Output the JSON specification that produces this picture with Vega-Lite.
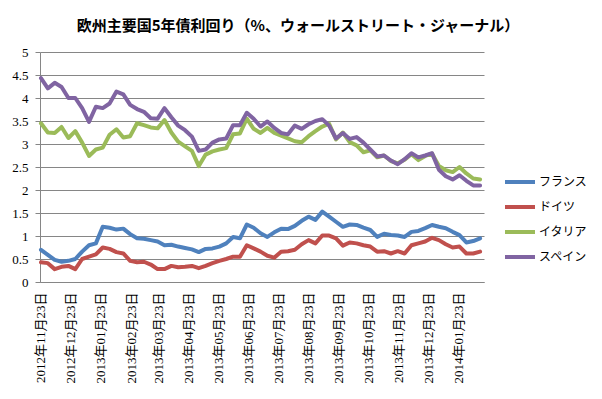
{
"$schema": "https://vega.github.io/schema/vega-lite/v6.json",
"width": 444, "height": 230,
"autosize": {"type": "none"},
"padding": {"left": 40, "top": 52, "right": 118, "bottom": 117},
"background": "white",
"title": {"text": "欧州主要国5年債利回り（%、ウォールストリート・ジャーナル）", "font": "Noto Sans CJK JP", "fontSize": 15, "fontWeight": "bold", "anchor": "middle", "dx": 36, "offset": -3, "baseline": "bottom", "color": "black"},
"data": {"values": [
{"date":"2012-11-23","country":"フランス","yield":0.70},{"date":"2012-11-30","country":"フランス","yield":0.59},{"date":"2012-12-07","country":"フランス","yield":0.48},{"date":"2012-12-14","country":"フランス","yield":0.44},{"date":"2012-12-21","country":"フランス","yield":0.46},{"date":"2012-12-28","country":"フランス","yield":0.50},{"date":"2013-01-04","country":"フランス","yield":0.66},{"date":"2013-01-11","country":"フランス","yield":0.80},{"date":"2013-01-18","country":"フランス","yield":0.84},{"date":"2013-01-25","country":"フランス","yield":1.20},{"date":"2013-02-01","country":"フランス","yield":1.18},{"date":"2013-02-08","country":"フランス","yield":1.14},{"date":"2013-02-15","country":"フランス","yield":1.16},{"date":"2013-02-22","country":"フランス","yield":1.04},{"date":"2013-03-01","country":"フランス","yield":0.95},{"date":"2013-03-08","country":"フランス","yield":0.94},{"date":"2013-03-15","country":"フランス","yield":0.91},{"date":"2013-03-22","country":"フランス","yield":0.88},{"date":"2013-03-29","country":"フランス","yield":0.80},{"date":"2013-04-05","country":"フランス","yield":0.81},{"date":"2013-04-12","country":"フランス","yield":0.77},{"date":"2013-04-19","country":"フランス","yield":0.74},{"date":"2013-04-26","country":"フランス","yield":0.71},{"date":"2013-05-03","country":"フランス","yield":0.65},{"date":"2013-05-10","country":"フランス","yield":0.72},{"date":"2013-05-17","country":"フランス","yield":0.73},{"date":"2013-05-24","country":"フランス","yield":0.77},{"date":"2013-05-31","country":"フランス","yield":0.84},{"date":"2013-06-07","country":"フランス","yield":0.98},{"date":"2013-06-14","country":"フランス","yield":0.95},{"date":"2013-06-21","country":"フランス","yield":1.25},{"date":"2013-06-28","country":"フランス","yield":1.18},{"date":"2013-07-05","country":"フランス","yield":1.06},{"date":"2013-07-12","country":"フランス","yield":0.98},{"date":"2013-07-19","country":"フランス","yield":1.08},{"date":"2013-07-26","country":"フランス","yield":1.16},{"date":"2013-08-02","country":"フランス","yield":1.15},{"date":"2013-08-09","country":"フランス","yield":1.22},{"date":"2013-08-16","country":"フランス","yield":1.33},{"date":"2013-08-23","country":"フランス","yield":1.42},{"date":"2013-08-30","country":"フランス","yield":1.35},{"date":"2013-09-06","country":"フランス","yield":1.53},{"date":"2013-09-13","country":"フランス","yield":1.42},{"date":"2013-09-20","country":"フランス","yield":1.31},{"date":"2013-09-27","country":"フランス","yield":1.20},{"date":"2013-10-04","country":"フランス","yield":1.25},{"date":"2013-10-11","country":"フランス","yield":1.24},{"date":"2013-10-18","country":"フランス","yield":1.18},{"date":"2013-10-25","country":"フランス","yield":1.13},{"date":"2013-11-01","country":"フランス","yield":0.98},{"date":"2013-11-08","country":"フランス","yield":1.05},{"date":"2013-11-15","country":"フランス","yield":1.02},{"date":"2013-11-22","country":"フランス","yield":1.01},{"date":"2013-11-29","country":"フランス","yield":0.98},{"date":"2013-12-06","country":"フランス","yield":1.09},{"date":"2013-12-13","country":"フランス","yield":1.11},{"date":"2013-12-20","country":"フランス","yield":1.17},{"date":"2013-12-27","country":"フランス","yield":1.24},{"date":"2014-01-03","country":"フランス","yield":1.20},{"date":"2014-01-10","country":"フランス","yield":1.17},{"date":"2014-01-17","country":"フランス","yield":1.09},{"date":"2014-01-24","country":"フランス","yield":1.02},{"date":"2014-01-31","country":"フランス","yield":0.86},{"date":"2014-02-07","country":"フランス","yield":0.89},{"date":"2014-02-14","country":"フランス","yield":0.95},
{"date":"2012-11-23","country":"ドイツ","yield":0.43},{"date":"2012-11-30","country":"ドイツ","yield":0.41},{"date":"2012-12-07","country":"ドイツ","yield":0.28},{"date":"2012-12-14","country":"ドイツ","yield":0.33},{"date":"2012-12-21","country":"ドイツ","yield":0.35},{"date":"2012-12-28","country":"ドイツ","yield":0.28},{"date":"2013-01-04","country":"ドイツ","yield":0.50},{"date":"2013-01-11","country":"ドイツ","yield":0.55},{"date":"2013-01-18","country":"ドイツ","yield":0.60},{"date":"2013-01-25","country":"ドイツ","yield":0.75},{"date":"2013-02-01","country":"ドイツ","yield":0.72},{"date":"2013-02-08","country":"ドイツ","yield":0.65},{"date":"2013-02-15","country":"ドイツ","yield":0.62},{"date":"2013-02-22","country":"ドイツ","yield":0.46},{"date":"2013-03-01","country":"ドイツ","yield":0.43},{"date":"2013-03-08","country":"ドイツ","yield":0.44},{"date":"2013-03-15","country":"ドイツ","yield":0.38},{"date":"2013-03-22","country":"ドイツ","yield":0.28},{"date":"2013-03-29","country":"ドイツ","yield":0.28},{"date":"2013-04-05","country":"ドイツ","yield":0.35},{"date":"2013-04-12","country":"ドイツ","yield":0.32},{"date":"2013-04-19","country":"ドイツ","yield":0.33},{"date":"2013-04-26","country":"ドイツ","yield":0.35},{"date":"2013-05-03","country":"ドイツ","yield":0.30},{"date":"2013-05-10","country":"ドイツ","yield":0.35},{"date":"2013-05-17","country":"ドイツ","yield":0.41},{"date":"2013-05-24","country":"ドイツ","yield":0.46},{"date":"2013-05-31","country":"ドイツ","yield":0.50},{"date":"2013-06-07","country":"ドイツ","yield":0.55},{"date":"2013-06-14","country":"ドイツ","yield":0.55},{"date":"2013-06-21","country":"ドイツ","yield":0.80},{"date":"2013-06-28","country":"ドイツ","yield":0.73},{"date":"2013-07-05","country":"ドイツ","yield":0.66},{"date":"2013-07-12","country":"ドイツ","yield":0.57},{"date":"2013-07-19","country":"ドイツ","yield":0.53},{"date":"2013-07-26","country":"ドイツ","yield":0.66},{"date":"2013-08-02","country":"ドイツ","yield":0.67},{"date":"2013-08-09","country":"ドイツ","yield":0.70},{"date":"2013-08-16","country":"ドイツ","yield":0.82},{"date":"2013-08-23","country":"ドイツ","yield":0.91},{"date":"2013-08-30","country":"ドイツ","yield":0.84},{"date":"2013-09-06","country":"ドイツ","yield":1.01},{"date":"2013-09-13","country":"ドイツ","yield":1.01},{"date":"2013-09-20","country":"ドイツ","yield":0.95},{"date":"2013-09-27","country":"ドイツ","yield":0.79},{"date":"2013-10-04","country":"ドイツ","yield":0.86},{"date":"2013-10-11","country":"ドイツ","yield":0.84},{"date":"2013-10-18","country":"ドイツ","yield":0.80},{"date":"2013-10-25","country":"ドイツ","yield":0.77},{"date":"2013-11-01","country":"ドイツ","yield":0.66},{"date":"2013-11-08","country":"ドイツ","yield":0.67},{"date":"2013-11-15","country":"ドイツ","yield":0.62},{"date":"2013-11-22","country":"ドイツ","yield":0.67},{"date":"2013-11-29","country":"ドイツ","yield":0.62},{"date":"2013-12-06","country":"ドイツ","yield":0.80},{"date":"2013-12-13","country":"ドイツ","yield":0.84},{"date":"2013-12-20","country":"ドイツ","yield":0.88},{"date":"2013-12-27","country":"ドイツ","yield":0.96},{"date":"2014-01-03","country":"ドイツ","yield":0.91},{"date":"2014-01-10","country":"ドイツ","yield":0.82},{"date":"2014-01-17","country":"ドイツ","yield":0.75},{"date":"2014-01-24","country":"ドイツ","yield":0.77},{"date":"2014-01-31","country":"ドイツ","yield":0.62},{"date":"2014-02-07","country":"ドイツ","yield":0.62},{"date":"2014-02-14","country":"ドイツ","yield":0.66},
{"date":"2012-11-23","country":"イタリア","yield":3.45},{"date":"2012-11-30","country":"イタリア","yield":3.25},{"date":"2012-12-07","country":"イタリア","yield":3.24},{"date":"2012-12-14","country":"イタリア","yield":3.37},{"date":"2012-12-21","country":"イタリア","yield":3.13},{"date":"2012-12-28","country":"イタリア","yield":3.28},{"date":"2013-01-04","country":"イタリア","yield":3.03},{"date":"2013-01-11","country":"イタリア","yield":2.74},{"date":"2013-01-18","country":"イタリア","yield":2.88},{"date":"2013-01-25","country":"イタリア","yield":2.92},{"date":"2013-02-01","country":"イタリア","yield":3.20},{"date":"2013-02-08","country":"イタリア","yield":3.32},{"date":"2013-02-15","country":"イタリア","yield":3.14},{"date":"2013-02-22","country":"イタリア","yield":3.17},{"date":"2013-03-01","country":"イタリア","yield":3.45},{"date":"2013-03-08","country":"イタリア","yield":3.41},{"date":"2013-03-15","country":"イタリア","yield":3.36},{"date":"2013-03-22","country":"イタリア","yield":3.34},{"date":"2013-03-29","country":"イタリア","yield":3.52},{"date":"2013-04-05","country":"イタリア","yield":3.25},{"date":"2013-04-12","country":"イタリア","yield":3.05},{"date":"2013-04-19","country":"イタリア","yield":2.95},{"date":"2013-04-26","country":"イタリア","yield":2.85},{"date":"2013-05-03","country":"イタリア","yield":2.52},{"date":"2013-05-10","country":"イタリア","yield":2.77},{"date":"2013-05-17","country":"イタリア","yield":2.84},{"date":"2013-05-24","country":"イタリア","yield":2.88},{"date":"2013-05-31","country":"イタリア","yield":2.91},{"date":"2013-06-07","country":"イタリア","yield":3.21},{"date":"2013-06-14","country":"イタリア","yield":3.23},{"date":"2013-06-21","country":"イタリア","yield":3.55},{"date":"2013-06-28","country":"イタリア","yield":3.33},{"date":"2013-07-05","country":"イタリア","yield":3.24},{"date":"2013-07-12","country":"イタリア","yield":3.35},{"date":"2013-07-19","country":"イタリア","yield":3.24},{"date":"2013-07-26","country":"イタリア","yield":3.18},{"date":"2013-08-02","country":"イタリア","yield":3.12},{"date":"2013-08-09","country":"イタリア","yield":3.06},{"date":"2013-08-16","country":"イタリア","yield":3.04},{"date":"2013-08-23","country":"イタリア","yield":3.17},{"date":"2013-08-30","country":"イタリア","yield":3.28},{"date":"2013-09-06","country":"イタリア","yield":3.38},{"date":"2013-09-13","country":"イタリア","yield":3.44},{"date":"2013-09-20","country":"イタリア","yield":3.10},{"date":"2013-09-27","country":"イタリア","yield":3.25},{"date":"2013-10-04","country":"イタリア","yield":3.04},{"date":"2013-10-11","country":"イタリア","yield":2.97},{"date":"2013-10-18","country":"イタリア","yield":2.82},{"date":"2013-10-25","country":"イタリア","yield":2.86},{"date":"2013-11-01","country":"イタリア","yield":2.71},{"date":"2013-11-08","country":"イタリア","yield":2.75},{"date":"2013-11-15","country":"イタリア","yield":2.63},{"date":"2013-11-22","country":"イタリア","yield":2.58},{"date":"2013-11-29","country":"イタリア","yield":2.66},{"date":"2013-12-06","country":"イタリア","yield":2.78},{"date":"2013-12-13","country":"イタリア","yield":2.65},{"date":"2013-12-20","country":"イタリア","yield":2.74},{"date":"2013-12-27","country":"イタリア","yield":2.79},{"date":"2014-01-03","country":"イタリア","yield":2.52},{"date":"2014-01-10","country":"イタリア","yield":2.43},{"date":"2014-01-17","country":"イタリア","yield":2.39},{"date":"2014-01-24","country":"イタリア","yield":2.50},{"date":"2014-01-31","country":"イタリア","yield":2.36},{"date":"2014-02-07","country":"イタリア","yield":2.25},{"date":"2014-02-14","country":"イタリア","yield":2.23},
{"date":"2012-11-23","country":"スペイン","yield":4.43},{"date":"2012-11-30","country":"スペイン","yield":4.21},{"date":"2012-12-07","country":"スペイン","yield":4.33},{"date":"2012-12-14","country":"スペイン","yield":4.24},{"date":"2012-12-21","country":"スペイン","yield":4.00},{"date":"2012-12-28","country":"スペイン","yield":4.00},{"date":"2013-01-04","country":"スペイン","yield":3.78},{"date":"2013-01-11","country":"スペイン","yield":3.48},{"date":"2013-01-18","country":"スペイン","yield":3.81},{"date":"2013-01-25","country":"スペイン","yield":3.78},{"date":"2013-02-01","country":"スペイン","yield":3.88},{"date":"2013-02-08","country":"スペイン","yield":4.14},{"date":"2013-02-15","country":"スペイン","yield":4.08},{"date":"2013-02-22","country":"スペイン","yield":3.85},{"date":"2013-03-01","country":"スペイン","yield":3.76},{"date":"2013-03-08","country":"スペイン","yield":3.70},{"date":"2013-03-15","country":"スペイン","yield":3.56},{"date":"2013-03-22","country":"スペイン","yield":3.55},{"date":"2013-03-29","country":"スペイン","yield":3.78},{"date":"2013-04-05","country":"スペイン","yield":3.58},{"date":"2013-04-12","country":"スペイン","yield":3.40},{"date":"2013-04-19","country":"スペイン","yield":3.30},{"date":"2013-04-26","country":"スペイン","yield":3.16},{"date":"2013-05-03","country":"スペイン","yield":2.85},{"date":"2013-05-10","country":"スペイン","yield":2.88},{"date":"2013-05-17","country":"スペイン","yield":3.03},{"date":"2013-05-24","country":"スペイン","yield":3.10},{"date":"2013-05-31","country":"スペイン","yield":3.12},{"date":"2013-06-07","country":"スペイン","yield":3.41},{"date":"2013-06-14","country":"スペイン","yield":3.41},{"date":"2013-06-21","country":"スペイン","yield":3.68},{"date":"2013-06-28","country":"スペイン","yield":3.55},{"date":"2013-07-05","country":"スペイン","yield":3.38},{"date":"2013-07-12","country":"スペイン","yield":3.49},{"date":"2013-07-19","country":"スペイン","yield":3.35},{"date":"2013-07-26","country":"スペイン","yield":3.24},{"date":"2013-08-02","country":"スペイン","yield":3.21},{"date":"2013-08-09","country":"スペイン","yield":3.40},{"date":"2013-08-16","country":"スペイン","yield":3.33},{"date":"2013-08-23","country":"スペイン","yield":3.43},{"date":"2013-08-30","country":"スペイン","yield":3.50},{"date":"2013-09-06","country":"スペイン","yield":3.54},{"date":"2013-09-13","country":"スペイン","yield":3.40},{"date":"2013-09-20","country":"スペイン","yield":3.12},{"date":"2013-09-27","country":"スペイン","yield":3.24},{"date":"2013-10-04","country":"スペイン","yield":3.11},{"date":"2013-10-11","country":"スペイン","yield":3.15},{"date":"2013-10-18","country":"スペイン","yield":3.03},{"date":"2013-10-25","country":"スペイン","yield":2.88},{"date":"2013-11-01","country":"スペイン","yield":2.73},{"date":"2013-11-08","country":"スペイン","yield":2.75},{"date":"2013-11-15","country":"スペイン","yield":2.64},{"date":"2013-11-22","country":"スペイン","yield":2.56},{"date":"2013-11-29","country":"スペイン","yield":2.67},{"date":"2013-12-06","country":"スペイン","yield":2.80},{"date":"2013-12-13","country":"スペイン","yield":2.71},{"date":"2013-12-20","country":"スペイン","yield":2.75},{"date":"2013-12-27","country":"スペイン","yield":2.80},{"date":"2014-01-03","country":"スペイン","yield":2.44},{"date":"2014-01-10","country":"スペイン","yield":2.30},{"date":"2014-01-17","country":"スペイン","yield":2.23},{"date":"2014-01-24","country":"スペイン","yield":2.32},{"date":"2014-01-31","country":"スペイン","yield":2.20},{"date":"2014-02-07","country":"スペイン","yield":2.10},{"date":"2014-02-14","country":"スペイン","yield":2.10}
]},
"mark": {"type": "line", "strokeWidth": 4, "strokeJoin": "round", "strokeCap": "round"},
"encoding": {
 "x": {"field": "date", "type": "temporal",
  "scale": {"type": "utc", "domain": [{"year": 2012, "month": 11, "date": 22, "utc": true}, {"year": 2014, "month": 2, "date": 18, "utc": true}]},
  "axis": {"title": null,
   "values": [{"year":2012,"month":11,"date":23,"utc":true},{"year":2012,"month":12,"date":23,"utc":true},{"year":2013,"month":1,"date":23,"utc":true},{"year":2013,"month":2,"date":23,"utc":true},{"year":2013,"month":3,"date":23,"utc":true},{"year":2013,"month":4,"date":23,"utc":true},{"year":2013,"month":5,"date":23,"utc":true},{"year":2013,"month":6,"date":23,"utc":true},{"year":2013,"month":7,"date":23,"utc":true},{"year":2013,"month":8,"date":23,"utc":true},{"year":2013,"month":9,"date":23,"utc":true},{"year":2013,"month":10,"date":23,"utc":true},{"year":2013,"month":11,"date":23,"utc":true},{"year":2013,"month":12,"date":23,"utc":true},{"year":2014,"month":1,"date":23,"utc":true}],
   "format": "%Y年%m月%d日", "labelAngle": -90, "labelFont": "Liberation Serif, Noto Sans CJK JP", "labelFontSize": 13, "labelColor": "black",
   "ticks": false, "grid": false, "domainColor": "#868686", "labelPadding": 10, "labelOverlap": false, "labelFlush": false}},
 "y": {"field": "yield", "type": "quantitative", "scale": {"domain": [0, 5]},
  "axis": {"title": null, "values": [0,0.5,1,1.5,2,2.5,3,3.5,4,4.5,5], "format": "~g", "labelFont": "Liberation Serif", "labelFontSize": 13, "labelColor": "black",
   "tickColor": "#868686", "tickSize": 5, "domainColor": "#868686", "grid": true, "gridColor": "#868686", "gridOpacity": 1, "labelPadding": 7}},
 "color": {"field": "country", "type": "nominal",
  "scale": {"domain": ["フランス","ドイツ","イタリア","スペイン"], "range": ["#4F81BD","#C0504D","#9BBB59","#8064A2"]},
  "legend": {"title": null, "orient": "none", "direction": "vertical", "legendX": 463, "legendY": 113, "symbolType": "stroke", "symbolSize": 900, "symbolStrokeWidth": 4,
   "labelFont": "Noto Sans CJK JP", "labelFontSize": 12, "labelColor": "black", "rowPadding": -8, "labelOffset": 2, "padding": 0}}
},
"config": {"view": {"stroke": null}}
}
